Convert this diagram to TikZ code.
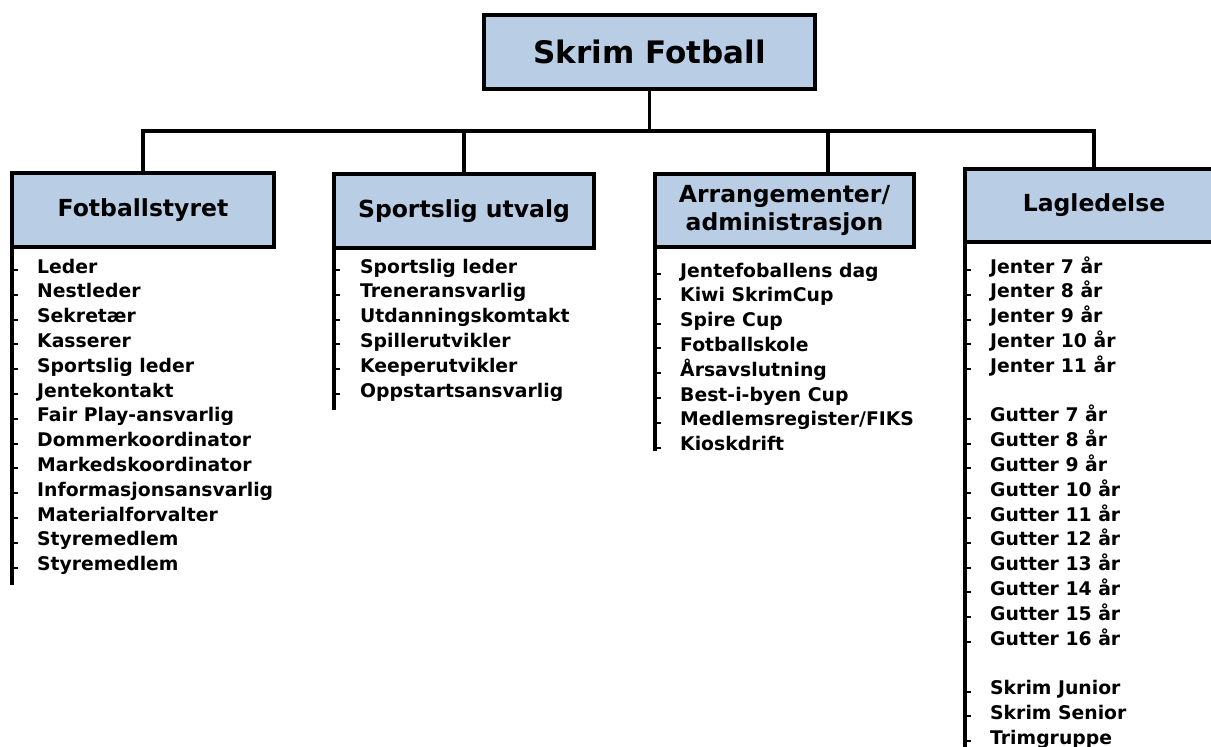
\documentclass[tikz,border=0pt]{standalone}
\usepackage{fontspec}
\setmainfont{DejaVu Sans}
\definecolor{boxblue}{HTML}{B9CDE5}
\tikzset{
  hbox/.style={draw=black, line width=4.5pt, fill=boxblue, outer sep=0pt, inner sep=0pt,
    minimum width=262pt, minimum height=74pt, align=center,
    font=\bfseries\fontsize{23.5}{28}\selectfont},
  conn/.style={line width=3.5pt},
  listline/.style={line width=4pt},
  tickmark/.style={line width=2pt},
  item/.style={anchor=base west, inner sep=0pt, font=\bfseries\fontsize{18.8}{20}\selectfont}
}
\begin{document}
\begin{tikzpicture}[x=1pt,y=-1pt]
\useasboundingbox (0,0) rectangle (1211,747);
\clip (0,0) rectangle (1211,747);

% boxes
\node[hbox, minimum width=331pt, minimum height=74pt, font=\bfseries\fontsize{31}{34}\selectfont] (top) at (649.5,52) {Skrim Fotball};
\node[hbox, minimum width=262pt, minimum height=74pt] (b1) at (143,210) {Fotballstyret};
\node[hbox, minimum width=260pt, minimum height=74pt] (b2) at (464,211) {Sportslig utvalg};
\node[hbox, minimum width=259pt, minimum height=73pt] (b3) at (784.5,210.5) {Arrangementer/\\administrasjon};
\node[hbox, minimum width=258pt, minimum height=73pt] (b4) at (1094,205.5) {Lagledelse};

% connectors
\coordinate (bar) at (650,131);
\coordinate (s3) at (828,131);
\draw[conn] (top.south) -- (top.south |- bar);
\draw[conn] (b1.north) -- (b1.north |- bar) -- (b4.north |- bar) -- (b4.north);
\draw[conn] (b2.north) -- (b2.north |- bar);
\draw[conn] (s3) -- (s3 |- b3.north);

% list lines
\coordinate (e1) at (12,585);
\coordinate (e2) at (334,410);
\coordinate (e3) at (655,451);
\coordinate (e4) at (965,747);
\draw[listline] (b1.south west) -- (e1);
\draw[listline] (b2.south west) -- (e2);
\draw[listline] (b3.south west) -- (e3);
\draw[listline] (b4.south west) -- (e4);

% Fotballstyret items
\foreach \t [count=\i from 0] in {Leder, Nestleder, Sekretær, Kasserer, Sportslig leder, Jentekontakt, Fair Play-ansvarlig, Dommerkoordinator, Markedskoordinator, Informasjonsansvarlig, Materialforvalter, Styremedlem, Styremedlem}{
  \node[item] (fa\i) at (37,{273+24.8*\i}) {\t};
  \draw[tickmark] (fa\i.base west) ++(-25,-3) -- ++(6,0);
}

% Sportslig utvalg items
\foreach \t [count=\i from 0] in {Sportslig leder, Treneransvarlig, Utdanningskomtakt, Spillerutvikler, Keeperutvikler, Oppstartsansvarlig}{
  \node[item] (sa\i) at (360,{273+24.8*\i}) {\t};
  \draw[tickmark] (sa\i.base west) ++(-26,-3) -- ++(6,0);
}

% Arrangementer items
\foreach \t [count=\i from 0] in {Jentefoballens dag, Kiwi SkrimCup, Spire Cup, Fotballskole, Årsavslutning, Best-i-byen Cup, {Medlemsregister/FIKS}, Kioskdrift}{
  \node[item] (aa\i) at (680,{277+24.8*\i}) {\t};
  \draw[tickmark] (aa\i.base west) ++(-25,-3) -- ++(6,0);
}

% Lagledelse items
\foreach \t [count=\i from 0] in {Jenter 7 år, Jenter 8 år, Jenter 9 år, Jenter 10 år, Jenter 11 år}{
  \node[item] (ja\i) at (990,{273+24.8*\i}) {\t};
  \draw[tickmark] (ja\i.base west) ++(-25,-3) -- ++(6,0);
}
\foreach \t [count=\i from 0] in {Gutter 7 år, Gutter 8 år, Gutter 9 år, Gutter 10 år, Gutter 11 år, Gutter 12 år, Gutter 13 år, Gutter 14 år, Gutter 15 år, Gutter 16 år}{
  \node[item] (ga\i) at (990,{273+24.8*(\i+6)}) {\t};
  \draw[tickmark] (ga\i.base west) ++(-25,-3) -- ++(6,0);
}
\foreach \t [count=\i from 0] in {Skrim Junior, Skrim Senior, Trimgruppe}{
  \node[item] (ka\i) at (990,{273+24.8*(\i+17)}) {\t};
  \draw[tickmark] (ka\i.base west) ++(-25,-3) -- ++(6,0);
}
\end{tikzpicture}
\end{document}
